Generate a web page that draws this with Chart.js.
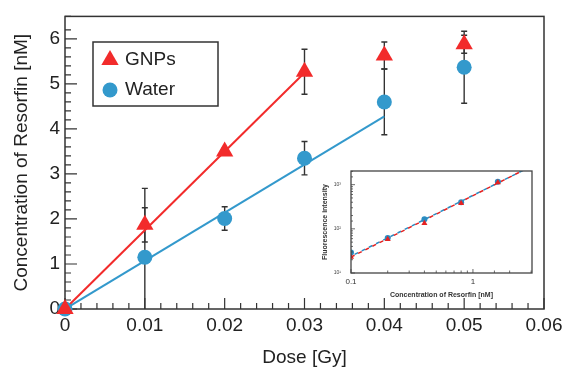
<!DOCTYPE html>
<html>
<head>
<meta charset="utf-8">
<script src="https://cdn.jsdelivr.net/npm/chart.js@4.4.1/dist/chart.umd.min.js"></script>
<style>
  html, body { margin: 0; padding: 0; background: #fff; }
  #wrap { position: relative; width: 569px; height: 376px; }
  #main { position: absolute; left: 0; top: 0; }
  #inset { position: absolute; left: 315px; top: 158px; }
</style>
</head>
<body>
<div id="wrap">
  <canvas id="main" width="569" height="376"></canvas>
  <canvas id="inset" width="230" height="147"></canvas>
</div>
<script>
// main plot data
const doses = [0, 0.01, 0.02, 0.03, 0.04, 0.05];
const gnpConc = [0, 1.87, 3.5, 5.27, 5.63, 5.88];
const gnpErr = [0, 0.38, 0.08, 0.5, 0.3, 0.2];
const waterConc = [0, 1.15, 2.01, 3.35, 4.6, 5.37];
const waterErr = [0, 1.53, 0.26, 0.37, 0.73, 0.8];
const gnpFitX = [0, 0.03];
const gnpFitY = [0, 5.25];
const waterFitX = [0, 0.04];
const waterFitY = [0, 4.28];

// inset data
const insetConc = [0.1, 0.2, 0.4, 0.8, 1.6];
const insetGnp = [23, 58, 134, 380, 1120];
const insetWater = [29, 62, 165, 400, 1170];
const insetFitX = [0.1, 3];
const insetGnpFit = [23, 2600];
const insetWaterFit = [24, 2600];

const RED = '#f22b2b';
const BLUE = '#3399cc';
const AXIS = '#333';
const FONT = 'Liberation Sans, Arial, sans-serif';

const pts = (xs, ys) => xs.map((x, i) => ({ x: x, y: ys[i] }));

// --- main chart helpers ---
function drawErrorBars(chart, ys, errs) {
  const { ctx, chartArea: a } = chart;
  const x = chart.scales.x, y = chart.scales.y;
  ctx.save();
  ctx.beginPath();
  ctx.rect(a.left, a.top, a.right - a.left, a.bottom - a.top);
  ctx.clip();
  ctx.strokeStyle = AXIS;
  ctx.lineWidth = 1.4;
  doses.forEach((d, i) => {
    if (!errs[i]) return;
    const px = x.getPixelForValue(d);
    const top = y.getPixelForValue(ys[i] + errs[i]);
    const bot = y.getPixelForValue(ys[i] - errs[i]);
    ctx.beginPath();
    ctx.moveTo(px, top); ctx.lineTo(px, bot);
    ctx.moveTo(px - 3, top); ctx.lineTo(px + 3, top);
    ctx.moveTo(px - 3, bot); ctx.lineTo(px + 3, bot);
    ctx.stroke();
  });
  ctx.restore();
}

const mainDecor = {
  id: 'mainDecor',
  beforeDatasetsDraw(chart) {
    const { ctx, chartArea: a } = chart;
    const x = chart.scales.x, y = chart.scales.y;
    drawErrorBars(chart, waterConc, waterErr);
    drawErrorBars(chart, gnpConc, gnpErr);

    ctx.save();
    ctx.strokeStyle = AXIS;
    ctx.lineWidth = 1.5;
    ctx.strokeRect(a.left, a.top, a.right - a.left, a.bottom - a.top);
    ctx.lineWidth = 1.2;
    ctx.beginPath();
    x.ticks.forEach(t => {
      const px = x.getPixelForValue(t.value);
      const len = t.label !== '' ? 11 : 6;
      ctx.moveTo(px, a.bottom); ctx.lineTo(px, a.bottom - len);
    });
    y.ticks.forEach(t => {
      const py = y.getPixelForValue(t.value);
      const len = t.label !== '' ? 12 : 6;
      ctx.moveTo(a.left, py); ctx.lineTo(a.left + len, py);
    });
    ctx.stroke();
    ctx.restore();
  },
  afterDraw(chart) {
    // legend box
    const ctx = chart.ctx;
    ctx.save();
    ctx.strokeStyle = AXIS;
    ctx.lineWidth = 1.5;
    ctx.fillStyle = '#fff';
    ctx.fillRect(93, 42, 125, 64);
    ctx.strokeRect(93, 42, 125, 64);
    ctx.fillStyle = RED;
    Chart.helpers.drawPoint(ctx, { pointStyle: 'triangle', radius: 10, borderWidth: 0 }, 110, 60);
    ctx.fillStyle = BLUE;
    Chart.helpers.drawPoint(ctx, { pointStyle: 'circle', radius: 7.5, borderWidth: 0 }, 110, 90);
    ctx.fillStyle = '#222';
    ctx.font = '19px ' + FONT;
    ctx.textBaseline = 'middle';
    ctx.fillText('GNPs', 125, 60);
    ctx.fillText('Water', 125, 90);
    ctx.restore();
  }
};

const tickFont = { family: FONT, size: 19 };

new Chart(document.getElementById('main'), {
  type: 'scatter',
  data: {
    datasets: [
      {
        label: 'GNPs', data: pts(doses, gnpConc), order: 0, clip: false,
        pointStyle: 'triangle', pointRadius: 10, backgroundColor: RED, borderWidth: 0
      },
      {
        label: 'Water', data: pts(doses, waterConc), order: 1, clip: false,
        pointStyle: 'circle', pointRadius: 7.5, backgroundColor: BLUE, borderWidth: 0
      },
      {
        data: pts(gnpFitX, gnpFitY), order: 2, showLine: true, pointRadius: 0,
        borderColor: RED, borderWidth: 2
      },
      {
        data: pts(waterFitX, waterFitY), order: 3, showLine: true, pointRadius: 0,
        borderColor: BLUE, borderWidth: 2
      }
    ]
  },
  options: {
    responsive: false,
    animation: false,
    layout: { padding: { top: 7, right: 25, left: 0, bottom: 0 } },
    plugins: { legend: { display: false }, tooltip: { enabled: false } },
    scales: {
      x: {
        type: 'linear', min: 0, max: 0.06,
        afterFit(s) { s.height = 67; },
        grid: { display: false, drawTicks: false },
        border: { display: false },
        ticks: {
          stepSize: 0.002, autoSkip: false, maxRotation: 0, padding: 5,
          color: '#222', font: tickFont,
          callback(v) {
            const k = Math.round(v * 1000);
            if (k % 10 !== 0) return '';
            return k === 0 ? '0' : (k / 1000).toFixed(2);
          }
        },
        title: {
          display: true, text: 'Dose [Gy]', color: '#222', font: tickFont,
          padding: { top: 0, bottom: 6.5 }
        }
      },
      y: {
        type: 'linear', min: 0, max: 6.5,
        afterFit(s) { s.width = 65; },
        grid: { display: false, drawTicks: false },
        border: { display: false },
        ticks: {
          stepSize: 0.2, autoSkip: false, padding: 5,
          color: '#222', font: tickFont,
          callback(v) {
            return Math.abs(v - Math.round(v)) < 1e-6 ? String(Math.round(v)) : '';
          }
        },
        title: {
          display: true, text: 'Concentration of Resorfin [nM]', color: '#222', font: tickFont,
          padding: { top: 10.5, bottom: 0 }
        }
      }
    }
  },
  plugins: [mainDecor]
});

// --- inset chart ---
const SUP = { '1': '\u00b9', '2': '\u00b2', '3': '\u00b3' };
const isDecade = v => Math.abs(Math.log10(v) - Math.round(Math.log10(v))) < 1e-6;

const insetDecor = {
  id: 'insetDecor',
  afterDatasetsDraw(chart) {
    const { ctx, chartArea: a } = chart;
    const x = chart.scales.x, y = chart.scales.y;
    ctx.save();
    ctx.strokeStyle = '#444';
    ctx.lineWidth = 1.3;
    ctx.strokeRect(a.left, a.top, a.right - a.left, a.bottom - a.top);
    ctx.lineWidth = 0.8;
    ctx.beginPath();
    x.ticks.forEach(t => {
      if (t.value >= x.max) return;
      const px = x.getPixelForValue(t.value);
      const len = isDecade(t.value) ? 4 : 2.5;
      ctx.moveTo(px, a.bottom); ctx.lineTo(px, a.bottom - len);
    });
    y.ticks.forEach(t => {
      if (t.value >= y.max) return;
      const py = y.getPixelForValue(t.value);
      const len = isDecade(t.value) ? 4 : 2;
      ctx.moveTo(a.left, py); ctx.lineTo(a.left + len, py);
    });
    ctx.stroke();
    ctx.restore();
  }
};

new Chart(document.getElementById('inset'), {
  type: 'scatter',
  data: {
    datasets: [
      {
        data: pts(insetConc, insetGnp), order: 0,
        pointStyle: 'triangle', pointRadius: 3.5, backgroundColor: '#e52222', borderWidth: 0
      },
      {
        data: pts(insetConc, insetWater), order: 1,
        pointStyle: 'circle', pointRadius: 3, backgroundColor: '#2a8cc2', borderWidth: 0
      },
      {
        data: pts(insetFitX, insetGnpFit), order: 2, showLine: true, pointRadius: 0,
        borderColor: '#e52222', borderWidth: 1.5, borderDash: [4, 4]
      },
      {
        data: pts(insetFitX, insetWaterFit), order: 3, showLine: true, pointRadius: 0,
        borderColor: '#2a8cc2', borderWidth: 1.5, borderDash: [4, 4], borderDashOffset: 4
      }
    ]
  },
  options: {
    responsive: false,
    animation: false,
    layout: { padding: { top: 10, right: 13, left: 0, bottom: 0 } },
    plugins: { legend: { display: false }, tooltip: { enabled: false } },
    scales: {
      x: {
        type: 'logarithmic', min: 0.1, max: 3.05,
        afterFit(s) { s.height = 32; },
        grid: { display: false, drawTicks: false },
        border: { display: false },
        ticks: {
          autoSkip: false, maxRotation: 0, padding: 4,
          color: '#333', font: { family: FONT, size: 8 },
          callback(v) { return isDecade(v) ? String(Number(v.toPrecision(2))) : ''; }
        },
        title: {
          display: true, text: 'Concentration of Resorfin [nM]', color: '#333',
          font: { family: FONT, size: 7, weight: 'bold' },
          padding: { top: 0, bottom: 5.8 }
        }
      },
      y: {
        type: 'logarithmic', min: 10, max: 2040,
        afterFit(s) { s.width = 36; },
        grid: { display: false, drawTicks: false },
        border: { display: false },
        ticks: {
          autoSkip: false, padding: 10,
          color: '#444', font: { family: FONT, size: 5 },
          callback(v) {
            if (!isDecade(v)) return '';
            return '10' + SUP[String(Math.round(Math.log10(v)))];
          }
        },
        title: {
          display: true, text: 'Fluorescence intensity', color: '#333',
          font: { family: FONT, size: 7, weight: 'bold' },
          padding: { top: 5.8, bottom: 0 }
        }
      }
    }
  },
  plugins: [insetDecor]
});
</script>
</body>
</html>
